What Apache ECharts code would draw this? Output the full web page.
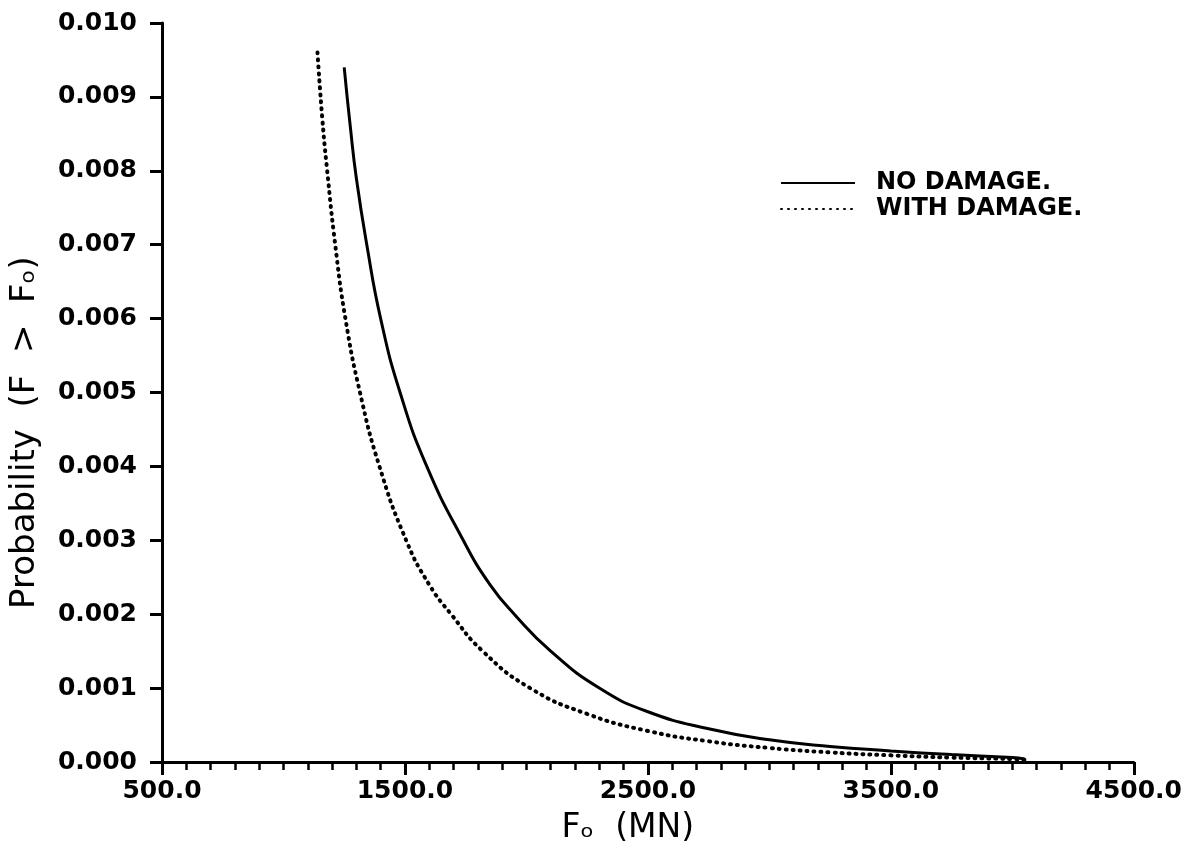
<!DOCTYPE html>
<html>
<head>
<meta charset="utf-8">
<script src="https://cdn.jsdelivr.net/npm/echarts@6/dist/echarts.min.js"></script>
<style>
    html,body{margin:0;padding:0;background:#fff;}
    #main{width:1185px;height:854px;}
</style>
</head>
<body>
<div id="main"></div>
<script>
    // 无损伤曲线 (F, P)
    var noDamageF = [1250, 1275, 1300, 1343, 1400, 1480, 1590, 1740, 1850, 1950, 2100, 2300, 2500, 2750, 3000, 3250, 3500, 3750, 4000, 4050];
    var noDamageP = [0.0094, 0.0086, 0.0079, 0.0070, 0.0060, 0.0050, 0.0040, 0.0030, 0.0024, 0.0020, 0.0015, 0.0010, 0.00068, 0.00045, 0.00030, 0.00021, 0.00015, 0.00010, 0.00006, 0.00004];
    // 有损伤曲线
    var withDamageF = [1140, 1160, 1180, 1213, 1255, 1315, 1395, 1505, 1600, 1690, 1820, 2015, 2250, 2500, 2750, 3000, 3250, 3500, 3750, 4000, 4050];
    var withDamageP = [0.0096, 0.0087, 0.0080, 0.0070, 0.0060, 0.0050, 0.0040, 0.0030, 0.0024, 0.0020, 0.0015, 0.0010, 0.00065, 0.00042, 0.00028, 0.00019, 0.00013, 0.00009, 0.00006, 0.00004, 0.00003];
    var seriesNames = ['NO DAMAGE.', 'WITH DAMAGE.'];

    function pairs(xs, ys){
        var out = [];
        for (var i = 0; i < xs.length; i++) {
            out.push([xs[i], ys[i]]);
        }
        return out;
    }

    var font = 'DejaVu Sans';
    var chart = echarts.init(document.getElementById('main'));
    var option = {
        backgroundColor: '#fff',
        animation: false,
        grid: {
            left: 158,
            right: 45,
            top: 23,
            bottom: 92
        },
        legend: {
            orient: 'vertical',
            left: 775,
            top: 166,
            itemWidth: 74,
            itemHeight: 14,
            itemGap: 2,
            itemStyle: { opacity: 0 },
            textStyle: {
                fontFamily: font,
                fontSize: 24,
                fontWeight: 'bold',
                color: '#000',
                padding: [0, 0, 0, 16]
            },
            data: seriesNames
        },
        xAxis: {
            type: 'value',
            min: 500,
            max: 4500,
            interval: 1000,
            name: 'Fₒ  (MN)',
            nameLocation: 'middle',
            nameGap: 50,
            nameTextStyle: {
                fontFamily: font,
                fontSize: 33,
                color: '#000',
                padding: [0, 40, 0, 0]
            },
            axisLine: {
                show: true,
                lineStyle: { color: '#000', width: 3 }
            },
            axisTick: {
                show: true,
                length: 13,
                lineStyle: { color: '#000', width: 3 }
            },
            minorTick: {
                show: true,
                splitNumber: 10,
                length: 8,
                lineStyle: { color: '#000', width: 2.5 }
            },
            splitLine: { show: false },
            axisLabel: {
                fontFamily: font,
                fontSize: 25,
                fontWeight: 'bold',
                color: '#000',
                margin: 17,
                formatter: function (v) { return v.toFixed(1); }
            }
        },
        yAxis: {
            type: 'value',
            min: 0,
            max: 0.01,
            interval: 0.001,
            name: 'Probability  (F  >  Fₒ)',
            nameLocation: 'middle',
            nameGap: 120,
            nameTextStyle: {
                fontFamily: font,
                fontSize: 34,
                color: '#000',
                padding: [0, 80, 0, 0]
            },
            axisLine: {
                show: true,
                lineStyle: { color: '#000', width: 3 }
            },
            axisTick: {
                show: true,
                length: 12,
                lineStyle: { color: '#000', width: 3 }
            },
            splitLine: { show: false },
            axisLabel: {
                fontFamily: font,
                fontSize: 25,
                fontWeight: 'bold',
                color: '#000',
                margin: 25,
                formatter: function (v) { return v.toFixed(3); }
            }
        },
        series: [
            {
                name: seriesNames[0],
                type: 'line',
                smooth: true,
                symbol: 'none',
                lineStyle: { color: '#000', width: 3 },
                itemStyle: { color: '#000' },
                data: pairs(noDamageF, noDamageP)
            },
            {
                name: seriesNames[1],
                type: 'line',
                smooth: true,
                symbol: 'none',
                lineStyle: { color: '#000', width: 4, type: [1, 6], cap: 'round' },
                itemStyle: { color: '#000' },
                data: pairs(withDamageF, withDamageP)
            }
        ]
    };
    chart.setOption(option);
</script>
</body>
</html>
